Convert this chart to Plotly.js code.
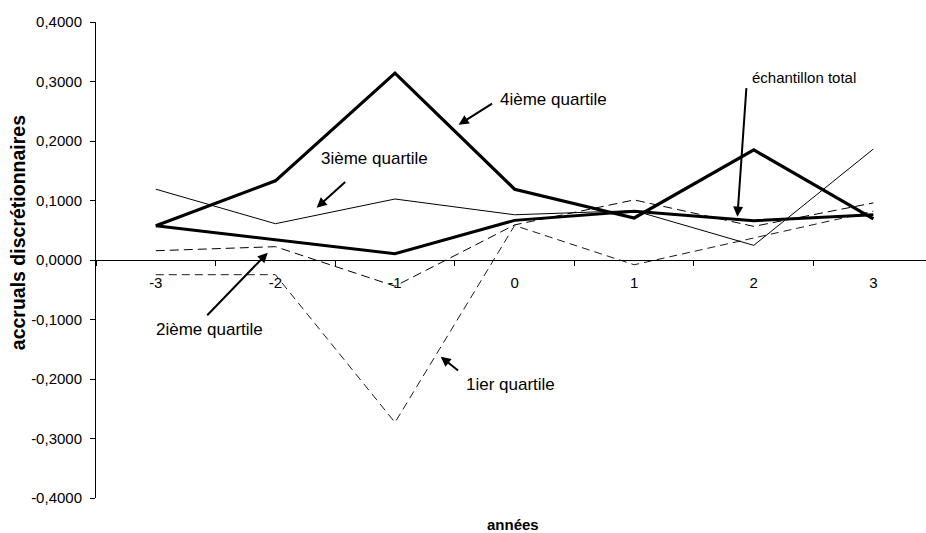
<!DOCTYPE html>
<html><head><meta charset="utf-8">
<script src="https://cdn.plot.ly/plotly-3.0.1.min.js"></script>
<style>html,body{margin:0;padding:0;background:#fff}#c{width:926px;height:533px}</style>
</head><body><div id="c"></div>
<script>
var annees = ["-3","-2","-1","0","1","2","3"];
var quartile4 = [0.0577, 0.1330, 0.3140, 0.1190, 0.0706, 0.1850, 0.0690];
var total = [0.0577, 0.0340, 0.0106, 0.0666, 0.0820, 0.0660, 0.0760];
var quartile3 = [0.1190, 0.0610, 0.1025, 0.0760, 0.0830, 0.0246, 0.1865];
var quartile2 = [0.0156, 0.0224, -0.0440, 0.0590, 0.1010, 0.0565, 0.0960];
var quartile1 = [-0.0247, -0.0247, -0.2730, 0.0580, -0.0080, 0.0370, 0.0820];
var yTicks = [-0.4, -0.3, -0.2, -0.1, 0, 0.1, 0.2, 0.3, 0.4];
var yTickLabels = ["-0,4000","-0,3000","-0,2000","-0,1000","0,0000","0,1000","0,2000","0,3000","0,4000"];

var FONT = '"Liberation Sans", Arial, sans-serif';
function tr(y, w, dash){
  return {x: annees, y: y, type:'scatter', mode:'lines',
    line:{color:'#000', width:w, dash:dash||'solid'}, hoverinfo:'skip', showlegend:false};
}
var data = [
  tr(quartile1, 0.9, '8px,5px'),
  tr(quartile2, 1, '9px,5px'),
  tr(quartile3, 1),
  tr(total, 3),
  tr(quartile4, 3.2)
];
function arrow(hx, hy, tx, ty){
  return {xref:'x', yref:'y', axref:'x', ayref:'y', x:hx, y:hy, ax:tx, ay:ty,
    text:'', showarrow:true, arrowhead:2, arrowsize:1, arrowwidth:2, arrowcolor:'#000',
    standoff:0, startstandoff:0};
}
function label(x, y, t, size){
  return {xref:'x', yref:'y', x:x, y:y, text:t, showarrow:false, xanchor:'left', yanchor:'middle',
    font:{family:FONT, size:size, color:'#000'}};
}
var annotations = [
  arrow(2.532, 0.2274, 2.824, 0.2644), label(2.858, 0.2694, '4ième quartile', 17),
  arrow(1.345, 0.0879, 1.596, 0.1333), label(1.362, 0.1703, '3ième quartile', 17),
  arrow(4.863, 0.0728, 4.939, 0.2913), label(4.968, 0.3064, 'échantillon total', 15),
  arrow(0.936, 0.0123, 0.418, -0.0953), label(-0.017, -0.1171, '2ième quartile', 17),
  arrow(2.382, -0.1625, 2.540, -0.1877), label(2.574, -0.2096, '1ier quartile', 17),
  {xref:'paper', yref:'paper', x:-0.093, y:0.558, text:'<b>accruals discrétionnaires</b>', textangle:-90,
   showarrow:false, xanchor:'center', yanchor:'middle', font:{family:FONT, size:19.5, color:'#000'}},
  {xref:'paper', yref:'paper', x:0.5026, y:-0.056, text:'<b>années</b>',
   showarrow:false, xanchor:'center', yanchor:'middle', font:{family:FONT, size:15, color:'#000'}}
];
var layout = {
  width:926, height:533,
  margin:{l:96, r:0, t:22, b:35, pad:0},
  paper_bgcolor:'#fff', plot_bgcolor:'#fff',
  font:{family:FONT, size:15, color:'#000'},
  xaxis:{type:'category', categoryorder:'array', categoryarray:annees, range:[-0.5, 6.44],
    anchor:'free', position:0.5, showline:true, linecolor:'#000', linewidth:1,
    ticks:'outside', ticklen:5, tickcolor:'#000', tickson:'boundaries',
    showgrid:false, zeroline:false, ticklabelstandoff:9,
    tickfont:{family:FONT, size:15, color:'#000'}},
  yaxis:{range:[-0.4, 0.4], tickvals:yTicks, ticktext:yTickLabels, showline:true, linecolor:'#000', linewidth:1,
    ticks:'outside', ticklen:5, tickcolor:'#000', showgrid:false, zeroline:false,
    ticklabelstandoff:5, tickfont:{family:FONT, size:15, color:'#000'}},
  annotations: annotations
};
Plotly.newPlot('c', data, layout, {staticPlot:true});
</script></body></html>
